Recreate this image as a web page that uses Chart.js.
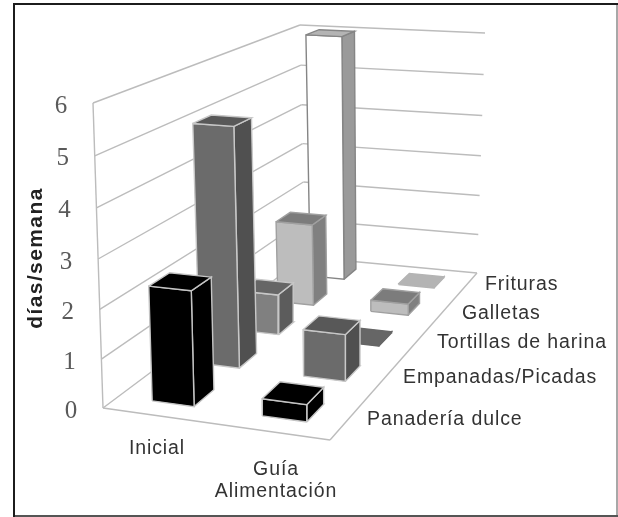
<!DOCTYPE html>
<html>
<head>
<meta charset="utf-8">
<title>días/semana</title>
<script src="https://cdn.jsdelivr.net/npm/chart.js@4/dist/chart.umd.min.js"></script>
<style>
  html, body { margin: 0; padding: 0; background: #fff; }
  canvas { display: block; }
</style>
</head>
<body>
<canvas id="myChart" width="618" height="517"></canvas>
<script>
// datos
const categorias = ['Inicial', 'Guía Alimentación'];
const grupos = ['Panadería dulce', 'Empanadas/Picadas', 'Tortillas de harina', 'Galletas', 'Frituras'];
const inicial = [2.35, 5.12, 0.92, 1.95, 6];
const guia = [0.35, 1, 0.02, 0.27, 0.02];
const ticks = [0, 1, 2, 3, 4, 5, 6];

// colores de cada grupo: frente, lado, tapa, borde
const frente = ['#000000', '#6b6b6b', '#808080', '#bdbdbd', '#ffffff'];
const lado = ['#000000', '#505050', '#5c5c5c', '#808080', '#9a9a9a'];
const tapa = ['#000000', '#585858', '#666666', '#7c7c7c', '#b4b4b4'];
const borde = ['#c4c4c4', '#c8c8c8', '#c8c8c8', '#a0a0a0', '#858585'];

const MAXV = 6;
const suelo = [[103, 408], [330, 440], [477, 273], [305, 257]];
const techo = [[93, 103], [329, 120], [485, 33], [300, 25]];
const curva = 0.955; // escorzo de la altura

// cuadrado unidad -> cuadrilatero
function homografia(q) {
  const [[x0, y0], [x1, y1], [x2, y2], [x3, y3]] = q;
  const dx1 = x1 - x2, dx2 = x3 - x2, sx = x0 - x1 + x2 - x3;
  const dy1 = y1 - y2, dy2 = y3 - y2, sy = y0 - y1 + y2 - y3;
  const den = dx1 * dy2 - dx2 * dy1;
  const g = (sx * dy2 - dx2 * sy) / den;
  const h = (dx1 * sy - sx * dy1) / den;
  return function (u, v) {
    const w = g * u + h * v + 1;
    return [
      ((x1 - x0 + g * x1) * u + (x3 - x0 + h * x3) * v + x0) / w,
      ((y1 - y0 + g * y1) * u + (y3 - y0 + h * y3) * v + y0) / w
    ];
  };
}
const hSuelo = homografia(suelo);
const hTecho = homografia(techo);

// (u, v, valor) -> punto en la escala del grafico
function punto(u, v, valor) {
  const a = hSuelo(u, v), b = hTecho(u, v);
  const t = valor / MAXV;
  const k = t * curva / (1 + t * (curva - 1));
  return { x: a[0] + (b[0] - a[0]) * k, y: a[1] + (b[1] - a[1]) * k };
}

const capas = [];
function linea(p, q) {
  capas.push({ data: [p, q], borderColor: '#bcbcbc', borderWidth: 1.4, fill: false });
}
function cara(puntos, relleno, color) {
  capas.push({
    data: puntos.concat([puntos[0]]),
    borderColor: color,
    backgroundColor: relleno,
    borderWidth: 1.4,
    fill: 'shape'
  });
}

// paredes y piso
ticks.forEach(t => {
  linea(punto(0, 0, t), punto(0, 1, t));
  linea(punto(0, 1, t), punto(1, 1, t));
});
linea(punto(0, 0, 0), punto(0, 0, MAXV));
linea(punto(0, 0, 0), punto(1, 0, 0));
linea(punto(1, 0, 0), punto(1, 1, 0));

// barras de atras hacia adelante
const anchoU = 0.097, anchoV = 0.042;
for (let g = grupos.length - 1; g >= 0; g--) {
  [inicial[g], guia[g]].forEach((valor, c) => {
    const uc = (c + 0.5) / categorias.length + 0.005;
    const vc = (g + 0.5) / grupos.length;
    const u0 = uc - anchoU, u1 = uc + anchoU;
    const v0 = vc - anchoV, v1 = vc + anchoV;
    // las barras casi planas no llevan filo claro
    const filo = valor < 0.05 ? tapa[g] : borde[g];
    cara([punto(u1, v0, 0), punto(u1, v1, 0), punto(u1, v1, valor), punto(u1, v0, valor)], lado[g], filo);
    cara([punto(u0, v0, 0), punto(u1, v0, 0), punto(u1, v0, valor), punto(u0, v0, valor)], frente[g], filo);
    cara([punto(u0, v0, valor), punto(u1, v0, valor), punto(u1, v1, valor), punto(u0, v1, valor)], tapa[g], filo);
  });
}

function trazo(ctx, color, x0, y0, x1, y1) {
  ctx.strokeStyle = color;
  ctx.beginPath();
  ctx.moveTo(x0, y0);
  ctx.lineTo(x1, y1);
  ctx.stroke();
}

// textos y marco
const textos = {
  id: 'textos',
  afterDraw(chart) {
    const ctx = chart.ctx;
    ctx.save();
    ctx.lineWidth = 2;
    trazo(ctx, '#a8a8a8', 617, 3, 617, 517);
    trazo(ctx, '#555555', 13, 516, 618, 516);
    trazo(ctx, '#1c1c1c', 14, 3, 14, 517);
    trazo(ctx, '#1c1c1c', 13, 4, 618, 4);

    ctx.textBaseline = 'middle';
    ctx.fillStyle = '#5a5a5a';
    ctx.font = '25px "Liberation Serif"';
    ctx.textAlign = 'center';
    ticks.forEach(t => {
      const p = punto(0, 0, t);
      ctx.fillText(String(t), p.x - 32, p.y + 3);
    });

    ctx.fillStyle = '#333';
    ctx.font = '19.5px "Liberation Sans"';
    ctx.letterSpacing = '0.9px';
    ctx.fillText(categorias[0], 157, 449);
    const partes = categorias[1].split(' ');
    ctx.fillText(partes[0], 276, 470);
    ctx.fillText(partes[1], 276, 492);

    ctx.textAlign = 'left';
    const xs = [367, 403, 437, 462, 485];
    const ys = [420, 378, 343, 314, 285];
    grupos.forEach((g, i) => ctx.fillText(g, xs[i], ys[i]));

    ctx.save();
    ctx.translate(42, 258);
    ctx.rotate(-Math.PI / 2);
    ctx.textAlign = 'center';
    ctx.textBaseline = 'alphabetic';
    ctx.fillStyle = '#222';
    ctx.font = 'bold 21px "Liberation Sans"';
    ctx.letterSpacing = '1.4px';
    ctx.fillText('días/semana', 0, 0);
    ctx.restore();
    ctx.restore();
  }
};

new Chart(document.getElementById('myChart'), {
  type: 'scatter',
  // chart.js pinta primero el ultimo dataset
  data: { datasets: capas.slice().reverse() },
  plugins: [textos],
  options: {
    responsive: false,
    animation: false,
    layout: { padding: 0 },
    elements: { point: { radius: 0 }, line: { tension: 0, borderJoinStyle: 'miter' } },
    datasets: { scatter: { showLine: true, clip: false } },
    plugins: { legend: { display: false }, tooltip: { enabled: false } },
    scales: {
      x: { type: 'linear', display: false, min: 0, max: 618 },
      y: { type: 'linear', display: false, min: 0, max: 517, reverse: true }
    }
  }
});
</script>
</body>
</html>
